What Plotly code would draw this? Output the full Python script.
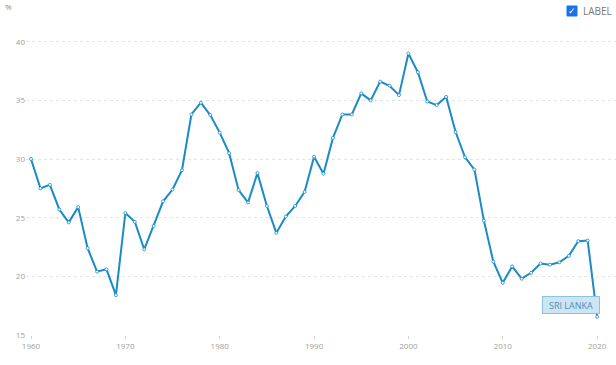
import plotly.graph_objects as go

years = list(range(1960, 2021))
values = [30.0, 27.5, 27.8, 25.7, 24.6, 25.9, 22.4, 20.4, 20.6, 18.4,
          25.4, 24.65, 22.3, 24.3, 26.4, 27.4, 29.05, 33.8, 34.8, 33.75,
          32.25, 30.5, 27.35, 26.3, 28.8, 26.0, 23.7, 25.1, 26.0, 27.2,
          30.2, 28.75, 31.8, 33.8, 33.8, 35.6, 35.0, 36.6, 36.25, 35.45,
          39.0, 37.4, 34.9, 34.6, 35.3, 32.3, 30.15, 29.1, 24.75, 21.25,
          19.45, 20.85, 19.8, 20.3, 21.1, 21.0, 21.2, 21.75, 23.0, 23.05,
          16.55]
x_ticks = [1960, 1970, 1980, 1990, 2000, 2010, 2020]
y_ticks = [15, 20, 25, 30, 35, 40]
series_name = "SRI LANKA"

LINE = "#1a8bc6"
TICKC = "#a0a0a0"

fig = go.Figure()
fig.add_trace(go.Scatter(
    x=years, y=values, mode="lines+markers", name=series_name,
    line=dict(color=LINE, width=2),
    marker=dict(size=3, color="white", line=dict(color=LINE, width=0.8)),
    hoverinfo="x+y",
))

fig.update_layout(
    width=616, height=365,
    margin=dict(l=26, r=0, t=30, b=30),
    paper_bgcolor="white", plot_bgcolor="white",
    showlegend=False,
    font=dict(family="Open Sans, sans-serif", size=8, color=TICKC),
    xaxis=dict(range=[1959.47, 2022.0], tickvals=x_ticks, showgrid=False,
               zeroline=False, showline=False, ticks="outside", ticklen=3,
               tickcolor="#d0d0d0", tickfont=dict(size=8, color=TICKC)),
    yaxis=dict(range=[15, 41.0], tickvals=y_ticks, showgrid=True,
               gridcolor="#e4e4e4", griddash="dot", gridwidth=1,
               zeroline=False, showline=False, ticks="",
               tickfont=dict(size=8, color=TICKC)),
    shapes=[dict(type="rect", xref="paper", yref="paper",
                 x0=(567 - 26) / 590, x1=(577 - 26) / 590,
                 y0=(335 - 16) / 305, y1=(335 - 6) / 305,
                 fillcolor="#1a73e8", line=dict(color="#1a73e8", width=1))],
    annotations=[
        dict(text="%", xref="paper", yref="paper", x=(3 - 26) / 590,
             y=(335 - 6) / 305, xanchor="left", yanchor="middle",
             showarrow=False, font=dict(size=8, color="#888")),
        dict(text="✓", xref="paper", yref="paper", x=(572 - 26) / 590,
             y=(335 - 11) / 305, xanchor="center", yanchor="middle",
             showarrow=False, font=dict(size=9, color="white", family="DejaVu Sans")),
        dict(text="LABEL", xref="paper", yref="paper", x=(581 - 26) / 590,
             y=(335 - 11) / 305, xanchor="left", yanchor="middle",
             showarrow=False, font=dict(size=10, color="#777")),
        dict(text=series_name, x=2017.25, y=17.56, xref="x", yref="y",
             showarrow=False, bgcolor="#cde5f3", bordercolor="#8dc2e0",
             borderwidth=1, borderpad=2, width=52, height=12,
             font=dict(size=9, color="#4a8fb9")),
    ],
)

fig.write_html("out.html", config={"displayModeBar": False},
               post_script="document.body.style.margin='0px';document.body.style.overflow='hidden';")
